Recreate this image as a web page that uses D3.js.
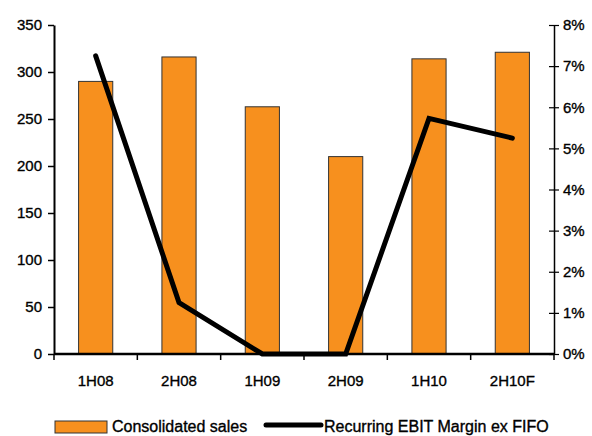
<!DOCTYPE html>
<html>
<head>
<meta charset="utf-8">
<script src="https://cdn.jsdelivr.net/npm/d3@7"></script>
<style>
  html, body { margin: 0; padding: 0; background: #fff; }
  svg { display: block; font-family: "Liberation Sans", Arial, sans-serif; }
  svg text { fill: #000; stroke: #000; stroke-width: 0.35px; }
</style>
</head>
<body>
<svg id="chart" width="592" height="436"></svg>
<script>
// Half-year periods
const periods = ["1H08", "2H08", "1H09", "2H09", "1H10", "2H10F"];
// Consolidated sales (left axis)
const sales = [290, 316, 263, 210, 314, 321];
// Recurring EBIT margin ex FIFO, in % (right axis)
const margin = [7.25, 1.25, 0, 0, 5.73, 5.25];
const leftTicks = [0, 50, 100, 150, 200, 250, 300, 350];
const rightTicks = [0, 1, 2, 3, 4, 5, 6, 7, 8];

const svg = d3.select("#chart");
const m = { left: 54, right: 554, top: 25, bottom: 354 };
const FS = 15;

const x = d3.scaleBand().domain(periods).range([m.left, m.right]).paddingInner(0.59).paddingOuter(0.295);
const xOuter = d3.scaleBand().domain(periods).range([m.left, m.right]);
const yL = d3.scaleLinear().domain([0, 350]).range([m.bottom, m.top]);
const yR = d3.scaleLinear().domain([0, 8]).range([m.bottom, m.top]);

// bars
svg.append("g").selectAll("rect").data(periods).join("rect")
  .attr("x", d => x(d))
  .attr("width", x.bandwidth())
  .attr("y", (d, i) => yL(sales[i]))
  .attr("height", (d, i) => yL(0) - yL(sales[i]))
  .attr("fill", "#F7901E")
  .attr("stroke", "#333")
  .attr("stroke-width", 1);

// margin line
const line = d3.line()
  .x((d, i) => xOuter(periods[i]) + xOuter.bandwidth() / 2)
  .y(d => yR(d));
svg.append("path").datum(margin)
  .attr("d", line)
  .attr("fill", "none")
  .attr("stroke", "#000")
  .attr("stroke-width", 5)
  .attr("stroke-linejoin", "miter")
  .attr("stroke-linecap", "round");

// left axis
const gl = svg.append("g").attr("transform", `translate(${m.left},0)`)
  .call(d3.axisLeft(yL).tickValues(leftTicks).tickSize(6).tickSizeOuter(0).tickPadding(6));
gl.select(".domain").attr("stroke", "#000").attr("stroke-width", 2);
gl.selectAll(".tick line").attr("stroke", "#000").attr("stroke-width", 1.5);
gl.selectAll("text").attr("font-size", FS).attr("font-family", "Liberation Sans, Arial, sans-serif");

// right axis
const gr = svg.append("g").attr("transform", `translate(${m.right},0)`)
  .call(d3.axisRight(yR).tickValues(rightTicks).tickFormat(d => d + "%").tickSize(5).tickSizeOuter(0).tickPadding(4));
gr.select(".domain").attr("stroke", "#000").attr("stroke-width", 1.5);
gr.selectAll(".tick line").attr("x1", -5).attr("x2", 5).attr("stroke", "#000").attr("stroke-width", 1.2);
gr.selectAll("text").attr("font-size", FS).attr("font-family", "Liberation Sans, Arial, sans-serif");

// x axis with boundary ticks
const gx = svg.append("g").attr("transform", `translate(0,${m.bottom})`);
gx.append("line").attr("x1", m.left).attr("x2", m.right).attr("stroke", "#000").attr("stroke-width", 2.5);
const bounds = periods.map(p => xOuter(p)).concat([m.right]);
gx.selectAll("line.tk").data(bounds).join("line").attr("class", "tk")
  .attr("x1", d => d).attr("x2", d => d).attr("y1", 0).attr("y2", 6)
  .attr("stroke", "#000").attr("stroke-width", 1.5);
gx.selectAll("text").data(periods).join("text")
  .attr("x", d => xOuter(d) + xOuter.bandwidth() / 2)
  .attr("y", 32)
  .attr("text-anchor", "middle")
  .attr("font-size", FS)
  .text(d => d);

// legend
const lg = svg.append("g");
lg.append("rect").attr("x", 55).attr("y", 421).attr("width", 52).attr("height", 12)
  .attr("fill", "#F7901E").attr("stroke", "#333").attr("stroke-width", 1);
lg.append("text").attr("x", 112).attr("y", 432).attr("font-size", 16).text("Consolidated sales");
lg.append("line").attr("x1", 266).attr("x2", 321).attr("y1", 425).attr("y2", 425)
  .attr("stroke", "#000").attr("stroke-width", 5).attr("stroke-linecap", "round");
lg.append("text").attr("x", 324).attr("y", 432).attr("font-size", 16).text("Recurring EBIT Margin ex FIFO");
</script>
</body>
</html>
